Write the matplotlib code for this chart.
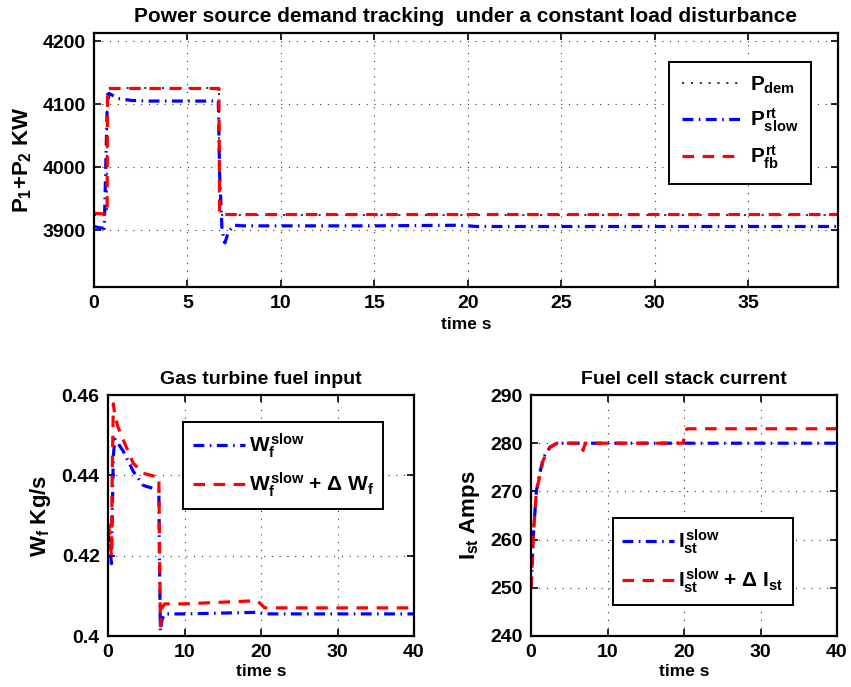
import numpy as np
import matplotlib
matplotlib.use("Agg")
import matplotlib.pyplot as plt

plt.rcParams['font.family'] = ['Liberation Sans', 'DejaVu Sans']
plt.rcParams['font.weight'] = 'bold'
plt.rcParams['mathtext.fontset'] = 'custom'
plt.rcParams['mathtext.rm'] = 'Liberation Sans:bold'
plt.rcParams['mathtext.it'] = 'Liberation Sans:bold'
plt.rcParams['mathtext.bf'] = 'Liberation Sans:bold'
plt.rcParams['mathtext.sf'] = 'Liberation Sans:bold'

# ---- power demand tracking (top panel) ----
t_dem = [0, 0.7, 0.7, 6.7, 6.7, 39.8]
p_dem = [3925, 3925, 4125, 4125, 3925, 3925]

t_fb = [0, 0.5, 0.7, 0.72, 6.68, 6.72, 39.8]
p_fb = [3927, 3926, 3925, 4125, 4125, 3925, 3925]

t_slow = [0, 0.3, 0.55, 0.62, 0.7, 0.8, 1.0, 1.3, 2.0, 3.0, 6.65, 6.72, 6.85,
          7.0, 7.2, 7.5, 8.0, 10, 15, 19.5, 20.5, 25, 39.8]
p_slow = [3906, 3904, 3903, 3990, 4090, 4117, 4114, 4109, 4106, 4105, 4105,
          3990, 3900, 3880, 3898, 3908, 3907, 3907, 3907, 3908, 3906, 3906, 3906]

# ---- gas turbine fuel input (bottom left) ----
t_wf = [0, 0.2, 0.45, 0.55, 0.7, 0.9, 1.3, 2.0, 3.3, 4.6, 6.65, 6.72, 6.85,
        7.05, 7.4, 10, 19.5, 20.5, 40]
wf_slow = [0.426, 0.423, 0.418, 0.430, 0.445, 0.449, 0.448, 0.446, 0.441,
           0.4375, 0.4363, 0.420, 0.4012, 0.404, 0.4055, 0.4055, 0.4059,
           0.4055, 0.4055]
wf_fb = [0.428, 0.426, 0.420, 0.440, 0.4578, 0.455, 0.452, 0.4488, 0.443,
         0.4405, 0.4395, 0.425, 0.4025, 0.407, 0.408, 0.408, 0.4088, 0.407,
         0.407]

# ---- fuel cell stack current (bottom right) ----
t_ist = [0, 0.1, 0.35, 0.7, 1.05, 1.6, 2.5, 3.4, 6.6, 6.8, 7.1, 7.5, 19.9,
         20.1, 20.4, 21, 40]
ist_slow = [250, 253, 262, 270, 273, 277, 279.2, 280, 280, 279.7, 280, 280,
            280, 280, 280, 280, 280]
ist_fb = [250, 253, 262, 270, 272.5, 276.5, 279.2, 280, 280, 278.5, 280,
          280, 280, 282.3, 283, 283, 283]

RED = (1, 0, 0)
BLUE = (0, 0, 1)
LW = 2.3
dash_fb = (0, (3.6, 2.7))
dash_slow = (0, (3.4, 1.7, 0.5, 1.7))
dot_dem = (0, (1.4, 4.4))

fig = plt.figure(figsize=(8.51, 6.87), dpi=100)


def style_axes(ax):
    ax.grid(True, color='black', linestyle=(0, (1, 6)), linewidth=0.8, alpha=0.8)
    ax.tick_params(direction='in', top=True, right=True, length=5, width=1.2,
                   labelsize=14, pad=6)
    for sp in ax.spines.values():
        sp.set_linewidth(1.6)
    for lab in ax.get_xticklabels() + ax.get_yticklabels():
        lab.set_fontweight('bold')


def framed_legend(ax, handlelength=2.8, **kw):
    leg = ax.legend(fontsize=15, handlelength=handlelength, fancybox=False,
                    framealpha=1, edgecolor='black', borderaxespad=0, **kw)
    leg.get_frame().set_linewidth(1.4)
    return leg


ax1 = fig.add_axes([94 / 851, 1 - 287 / 687, 744 / 851, 254 / 687])
ax1.plot(t_dem, p_dem, color='black', linestyle=dot_dem, linewidth=1.1,
         label=r'$P_{dem}$')
ax1.plot(t_slow, p_slow, color=BLUE, linestyle=dash_slow, linewidth=LW,
         label=r'$P^{rt}_{slow}$')
ax1.plot(t_fb, p_fb, color=RED, linestyle=dash_fb, linewidth=LW,
         label=r'$P^{rt}_{fb}$')
ax1.set_xlim(0, 39.8)
ax1.set_ylim(3810, 4213)
ax1.set_xticks([0, 5, 10, 15, 20, 25, 30, 35])
ax1.set_yticks([3900, 4000, 4100, 4200])
ax1.set_title('Power source demand tracking  under a constant load disturbance',
              fontsize=15, fontweight='bold', pad=8)
ax1.set_xlabel('time s', fontsize=12.5, fontweight='bold', labelpad=3)
ax1.set_ylabel(r'$P_1$+$P_2$ KW', fontsize=16, fontweight='bold', labelpad=6)
style_axes(ax1)
framed_legend(ax1, loc='upper right', bbox_to_anchor=(0.964, 0.886),
              labelspacing=0.5, borderpad=0.6, handletextpad=0.5)

ax2 = fig.add_axes([108 / 851, 1 - 636 / 687, 306 / 851, 241 / 687])
ax2.plot(t_wf, wf_slow, color=BLUE, linestyle=dash_slow, linewidth=LW,
         label=r'$W^{slow}_f$')
ax2.plot(t_wf, wf_fb, color=RED, linestyle=dash_fb, linewidth=LW,
         label=r'$W^{slow}_f$ + Δ $W_f$')
ax2.set_xlim(0, 40)
ax2.set_ylim(0.40, 0.46)
ax2.set_xticks([0, 10, 20, 30, 40])
ax2.set_yticks([0.40, 0.42, 0.44, 0.46])
ax2.set_yticklabels(['0.4', '0.42', '0.44', '0.46'])
ax2.set_title('Gas turbine fuel input', fontsize=14, fontweight='bold', pad=8)
ax2.set_xlabel('time s', fontsize=12.5, fontweight='bold', labelpad=2)
ax2.set_ylabel(r'$W_f$ Kg/s', fontsize=16, fontweight='bold', labelpad=6)
style_axes(ax2)
framed_legend(ax2, handlelength=2.5, loc='upper right',
              bbox_to_anchor=(0.90, 0.888),
              labelspacing=0.5, borderpad=0.45, handletextpad=0.2)

ax3 = fig.add_axes([531 / 851, 1 - 636 / 687, 306 / 851, 241 / 687])
ax3.plot(t_ist, ist_slow, color=BLUE, linestyle=dash_slow, linewidth=LW,
         label=r'$I^{slow}_{st}$')
ax3.plot(t_ist, ist_fb, color=RED, linestyle=dash_fb, linewidth=LW,
         label=r'$I^{slow}_{st}$ + Δ $I_{st}$')
ax3.set_xlim(0, 40)
ax3.set_ylim(240, 290)
ax3.set_xticks([0, 10, 20, 30, 40])
ax3.set_yticks([240, 250, 260, 270, 280, 290])
ax3.set_title('Fuel cell stack current', fontsize=14, fontweight='bold', pad=8)
ax3.set_xlabel('time s', fontsize=12.5, fontweight='bold', labelpad=2)
ax3.set_ylabel(r'$I_{st}$ Amps', fontsize=16, fontweight='bold', labelpad=6)
style_axes(ax3)
framed_legend(ax3, handlelength=2.5, loc='lower right',
              bbox_to_anchor=(0.856, 0.13),
              labelspacing=0.5, borderpad=0.45, handletextpad=0.2)

fig.savefig('out.png', dpi=100)
